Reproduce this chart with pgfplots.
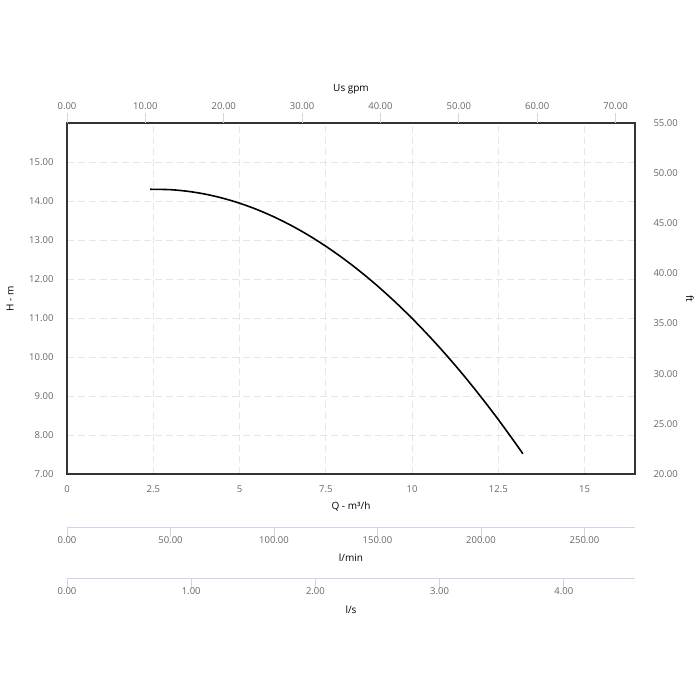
\documentclass[border=0pt]{standalone}
\usepackage{pgfplots}
\pgfplotsset{compat=1.18}
\usepackage{fontspec}
\setmainfont{Open Sans}
\definecolor{lab}{HTML}{666666}
\definecolor{tickc}{HTML}{CCD6EB}
\definecolor{framec}{HTML}{333333}
\definecolor{gridc}{HTML}{E6E6E6}
\begin{document}
\begin{tikzpicture}[font=\fontsize{10}{12}\selectfont]
\path[use as bounding box] (0,0) rectangle (700pt,700pt);
\pgfplotsset{every axis/.append style={scale only axis, width=568pt, anchor=south west,
  /pgf/number format/assume math mode=true,
  tick label style={font=\fontsize{9.5}{11}\selectfont, text=lab},
  label style={font=\fontsize{10.5}{12}\selectfont, text=lab}}}
% main axis
\begin{axis}[at={(67pt,226pt)}, height=351pt,
  xmin=0, xmax=16.46, ymin=7, ymax=16,
  xtick={0,2.5,5,7.5,10,12.5,15}, xticklabels={0,2.5,5,7.5,10,12.5,15},
  ytick={7,8,...,15},
  y tick label style={/pgf/number format/fixed,/pgf/number format/fixed zerofill,/pgf/number format/precision=2},
  grid=major, grid style={gridc, line width=0.8pt, dash pattern=on 7pt off 4pt},
  axis line style={framec, line width=1.4pt}, major tick length=0pt,
  xticklabel style={anchor=center, yshift=-15pt},
  yticklabel style={anchor=east, xshift=-10pt},
  xlabel={Q - m³/h}, ylabel={H - m},
  every axis x label/.style={at={(axis description cs:0.5,0)}, anchor=center, yshift=-33pt},
  every axis y label/.style={at={(axis description cs:0,0.5)}, anchor=center, rotate=90, yshift=57pt}]
\addplot[black, line width=1.6pt, smooth] coordinates {
(2.41,14.300) (3,14.290) (3.5,14.248) (4,14.177) (4.5,14.075) (5,13.944)
(5.5,13.783) (6,13.592) (6.5,13.371) (7,13.121) (7.5,12.840) (8,12.530)
(8.5,12.190) (9,11.820) (9.5,11.420) (10,10.990) (10.5,10.530) (11,10.041)
(11.5,9.522) (12,8.972) (12.5,8.394) (13,7.784) (13.21,7.520)};
\end{axis}
% top / right axis
\begin{axis}[at={(67pt,226pt)}, height=351pt,
  xmin=0, xmax=72.48, ymin=20, ymax=55,
  axis x line*=top, axis y line*=right, axis line style={draw=none},
  xtick={0,10,...,70}, ytick={20,25,...,55},
  tick label style={/pgf/number format/fixed,/pgf/number format/fixed zerofill,/pgf/number format/precision=2},
  tick align=outside, major tick length=10pt,
  x tick style={tickc, line width=0.8pt}, y tick style={draw=none},
  xticklabel style={anchor=center, yshift=7pt},
  yticklabel style={anchor=west, xshift=5pt},
  xlabel={Us gpm}, ylabel={ft},
  every axis x label/.style={at={(axis description cs:0.5,1)}, anchor=center, yshift=34pt},
  every axis y label/.style={at={(axis description cs:1,0.5)}, anchor=center, rotate=-90, yshift=55pt}]
\addplot[draw=none] coordinates {(0,20)};
\end{axis}
% l/min axis
\begin{axis}[at={(67pt,173pt)}, height=1pt,
  xmin=0, xmax=274.4, ymin=0, ymax=1,
  axis x line*=bottom, axis y line=none, axis line style={tickc, line width=0.8pt, -},
  xtick={0,50,...,250},
  tick label style={/pgf/number format/fixed,/pgf/number format/fixed zerofill,/pgf/number format/precision=2},
  tick align=outside, major tick length=10pt, x tick style={tickc, line width=0.8pt},
  xticklabel style={anchor=center, yshift=-3pt},
  xlabel={l/min},
  every axis x label/.style={at={(axis description cs:0.5,0)}, anchor=center, yshift=-31pt}]
\addplot[draw=none] coordinates {(0,0)};
\end{axis}
% l/s axis
\begin{axis}[at={(67pt,122pt)}, height=1pt,
  xmin=0, xmax=4.573, ymin=0, ymax=1,
  axis x line*=bottom, axis y line=none, axis line style={tickc, line width=0.8pt, -},
  xtick={0,1,...,4},
  tick label style={/pgf/number format/fixed,/pgf/number format/fixed zerofill,/pgf/number format/precision=2},
  tick align=outside, major tick length=10pt, x tick style={tickc, line width=0.8pt},
  xticklabel style={anchor=center, yshift=-3pt},
  xlabel={l/s},
  every axis x label/.style={at={(axis description cs:0.5,0)}, anchor=center, yshift=-32pt}]
\addplot[draw=none] coordinates {(0,0)};
\end{axis}
\end{tikzpicture}
\end{document}
